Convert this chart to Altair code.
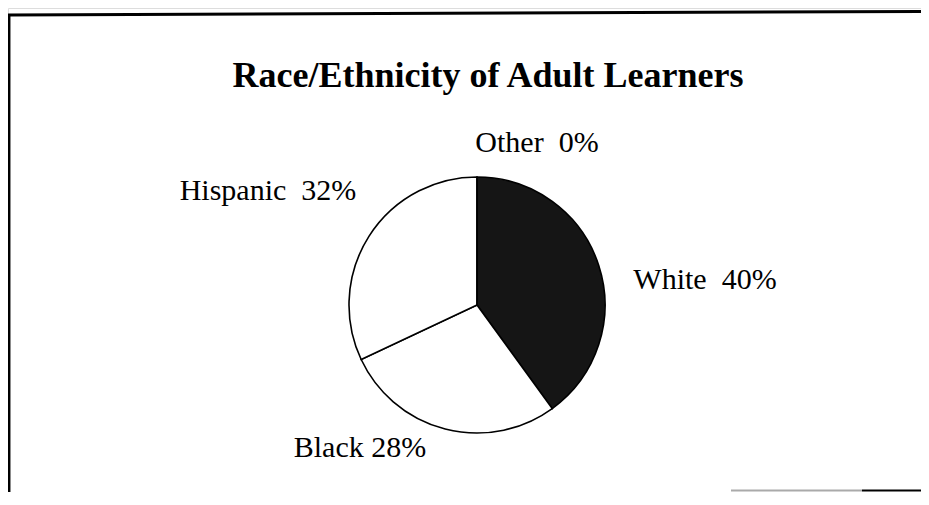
import altair as alt
import pandas as pd

# ---- data ----
categories = ["White", "Black", "Hispanic", "Other"]
values = [40, 28, 32, 0]
slice_order = [0, 1, 2, 3]
fills = ["#151515", "#ffffff", "#ffffff", "#ffffff"]
title_text = "Race/Ethnicity of Adult Learners"
label_text = {
    "White": "White\u00a0 40%",
    "Black": "Black 28%",
    "Hispanic": "Hispanic\u00a0 32%",
    "Other": "Other\u00a0 0%",
}

W, H = 913, 484
FONT = "Liberation Serif"

df = pd.DataFrame({"category": categories, "value": values, "idx": slice_order})

pie = alt.Chart(df).mark_arc(
    outerRadius=128, stroke="black", strokeWidth=1.6
).encode(
    theta=alt.Theta("value:Q", stack=True),
    color=alt.Color("category:N", scale=alt.Scale(domain=categories, range=fills), legend=None),
    order=alt.Order("idx:Q"),
    x=alt.value(469),
    y=alt.value(297),
)


def txt(s, x, y, size=30, weight="normal"):
    return alt.Chart(pd.DataFrame({"t": [s]})).mark_text(
        font=FONT, fontSize=size, fontWeight=weight, color="black",
        align="center", baseline="alphabetic",
    ).encode(text="t:N", x=alt.value(x), y=alt.value(y))


title = txt(title_text, 480, 79, size=36, weight="bold")
lab_other = txt(label_text["Other"], 529, 144)
lab_hisp = txt(label_text["Hispanic"], 260, 192)
lab_white = txt(label_text["White"], 697, 281)
lab_black = txt(label_text["Black"], 352, 449)

dummy = pd.DataFrame({"a": [0]})


def rule(x1, y1, x2, y2, color="black", width=3):
    return alt.Chart(dummy).mark_rule(color=color, strokeWidth=width).encode(
        x=alt.value(x1), y=alt.value(y1), x2=alt.value(x2), y2=alt.value(y2)
    )


frame_top = rule(0, 7, W, 3.5, width=3)
frame_left = rule(1.2, 6, 1.2, H, width=2.5)
frame_br_gray = rule(723, H - 1.5, 854, H - 1.5, color="#aaaaaa", width=2)
frame_br_black = rule(854, H - 1.5, W, H - 1.5, color="black", width=2)

chart = alt.layer(
    frame_top, frame_left, frame_br_gray, frame_br_black,
    pie, title, lab_other, lab_hisp, lab_white, lab_black,
).properties(
    width=W, height=H,
    autosize=alt.AutoSizeParams(type="none"),
    padding=0,
).configure_view(stroke=None).configure(background="white")

chart.save("out.html", embed_options={"renderer": "svg", "actions": False})
